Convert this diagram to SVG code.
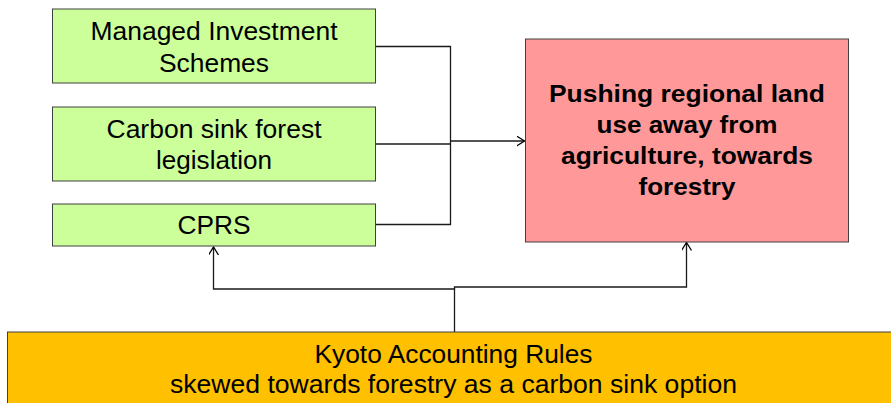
<svg xmlns="http://www.w3.org/2000/svg" width="891" height="403" viewBox="0 0 891 403">
<defs>
<style>
.box{stroke:#404040;stroke-width:1}
.g{fill:#CCFF99}
.r{fill:#FF9999}
.y{fill:#FFC000}
.t{font-family:"Liberation Sans",Arial,sans-serif;font-size:25px;fill:#000;text-anchor:middle}
.b{font-weight:bold;font-size:24px}
.c{fill:none;stroke:#1a1a1a;stroke-width:1.3}
</style>
<marker id="ah" markerWidth="12" markerHeight="12" refX="8" refY="5" orient="auto" markerUnits="userSpaceOnUse">
<path d="M0,0 L8,5 L0,10" fill="none" stroke="#000" stroke-width="1.3"/>
</marker>
</defs>
<rect width="891" height="403" fill="#fff"/>
<g id="connectors">
<polyline class="c" points="375.5,46.5 450.5,46.5 450.5,224.5 375.5,224.5"/>
<line class="c" x1="375.5" y1="144" x2="450.5" y2="144"/>
<line class="c" x1="450.5" y1="141" x2="524.5" y2="141" marker-end="url(#ah)"/>
<polyline class="c" points="454.5,332 454.5,289 213.5,289 213.5,247" marker-end="url(#ah)"/>
<polyline class="c" points="454.5,289 454.5,287 686.5,287 686.5,242.5" marker-end="url(#ah)"/>
</g>
<g id="mis">
<rect class="box g" x="52.5" y="9" width="323" height="74"/>
<text class="t" x="214" y="40" textLength="247" lengthAdjust="spacingAndGlyphs">Managed Investment</text>
<text class="t" x="214" y="72" textLength="110" lengthAdjust="spacingAndGlyphs">Schemes</text>
</g>
<g id="carbon">
<rect class="box g" x="52.5" y="107" width="323" height="74"/>
<text class="t" x="214" y="137.5" textLength="215" lengthAdjust="spacingAndGlyphs">Carbon sink forest</text>
<text class="t" x="214" y="169" textLength="116" lengthAdjust="spacingAndGlyphs">legislation</text>
</g>
<g id="cprs">
<rect class="box g" x="52.5" y="204" width="323" height="42"/>
<text class="t" x="214" y="234" textLength="73" lengthAdjust="spacingAndGlyphs">CPRS</text>
</g>
<g id="push">
<rect class="box r" x="525.5" y="39" width="323" height="203"/>
<text class="t b" x="687" y="102" textLength="276" lengthAdjust="spacingAndGlyphs">Pushing regional land</text>
<text class="t b" x="687" y="133" textLength="181" lengthAdjust="spacingAndGlyphs">use away from</text>
<text class="t b" x="687" y="164" textLength="252" lengthAdjust="spacingAndGlyphs">agriculture, towards</text>
<text class="t b" x="687" y="195" textLength="97" lengthAdjust="spacingAndGlyphs">forestry</text>
</g>
<g id="kyoto">
<rect class="box y" x="7.5" y="332" width="890" height="80"/>
<text class="t" x="453.5" y="363" textLength="278" lengthAdjust="spacingAndGlyphs">Kyoto Accounting Rules</text>
<text class="t" x="453.5" y="393" textLength="567" lengthAdjust="spacingAndGlyphs">skewed towards forestry as a carbon sink option</text>
</g>
</svg>
